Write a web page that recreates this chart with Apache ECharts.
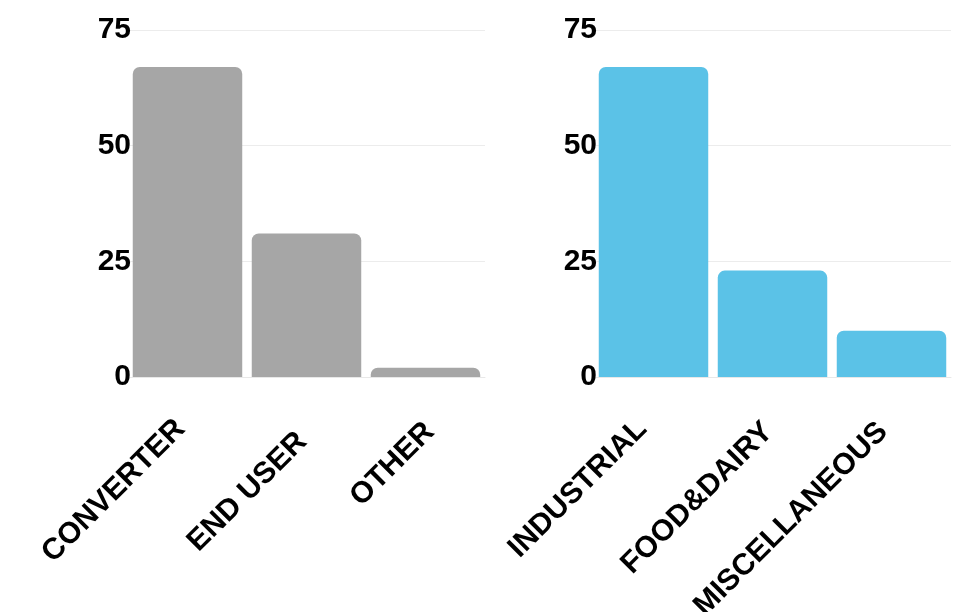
<!DOCTYPE html>
<html>
<head>
<meta charset="utf-8">
<script src="https://cdn.jsdelivr.net/npm/echarts@6/dist/echarts.min.js"></script>
<style>
  html, body { margin: 0; padding: 0; background: #fff; }
  #chart { width: 965px; height: 612px; }
</style>
</head>
<body>
<div id="chart"></div>
<script>
// customer types (left) and industry segments (right)
const customerTypes = ['CONVERTER', 'END USER', 'OTHER'];
const customerValues = [67, 31, 2];
const segments = ['INDUSTRIAL', 'FOOD&DAIRY', 'MISCELLANEOUS'];
const segmentValues = [67, 23, 10];
const yTicks = [0, 25, 50, 75];

// nudges for the slanted labels: [top padding, right padding]
const customerLabelPad = [[-19, 6], [-8, 13], [-9, 0]];
const segmentLabelPad = [[-22, 9], [-15, 6], [-18, 9]];

const font = '"Liberation Sans", Arial, sans-serif';

const xAxisFor = (cats, pads, idx) => ({
  type: 'category',
  gridIndex: idx,
  data: cats.map((c, i) => ({
    value: c,
    textStyle: { verticalAlign: 'top', padding: [pads[i][0], pads[i][1], 0, 0] }
  })),
  axisTick: { show: false },
  axisLine: { lineStyle: { color: '#e8e8e8' } },
  axisLabel: {
    rotate: 45,
    margin: 46,
    interval: 0,
    color: '#000',
    fontFamily: font,
    fontWeight: 'bold',
    fontSize: 30
  }
});

const yAxisFor = idx => ({
  type: 'value',
  gridIndex: idx,
  min: yTicks[0],
  max: yTicks[yTicks.length - 1],
  interval: 25,
  axisLine: { show: false },
  axisTick: { show: false },
  splitLine: { lineStyle: { color: '#ececec' } },
  axisLabel: {
    margin: -3,
    color: '#000',
    fontFamily: font,
    fontWeight: 'bold',
    fontSize: 30,
    padding: [0, 0, 6, 0]
  }
});

const chart = echarts.init(document.getElementById('chart'));
chart.setOption({
  animation: false,
  grid: [
    { left: 128, top: 30, width: 357, height: 347, outerBoundsMode: 'none' },
    { left: 594, top: 30, width: 357, height: 347, outerBoundsMode: 'none' }
  ],
  xAxis: [xAxisFor(customerTypes, customerLabelPad, 0), xAxisFor(segments, segmentLabelPad, 1)],
  yAxis: [yAxisFor(0), yAxisFor(1)],
  series: [
    {
      type: 'bar',
      xAxisIndex: 0,
      yAxisIndex: 0,
      data: customerValues,
      barCategoryGap: '8%',
      itemStyle: { color: '#a6a6a6', borderRadius: [7, 7, 0, 0] }
    },
    {
      type: 'bar',
      xAxisIndex: 1,
      yAxisIndex: 1,
      data: segmentValues,
      barCategoryGap: '8%',
      itemStyle: { color: '#5bc2e7', borderRadius: [7, 7, 0, 0] }
    }
  ]
});
</script>
</body>
</html>
